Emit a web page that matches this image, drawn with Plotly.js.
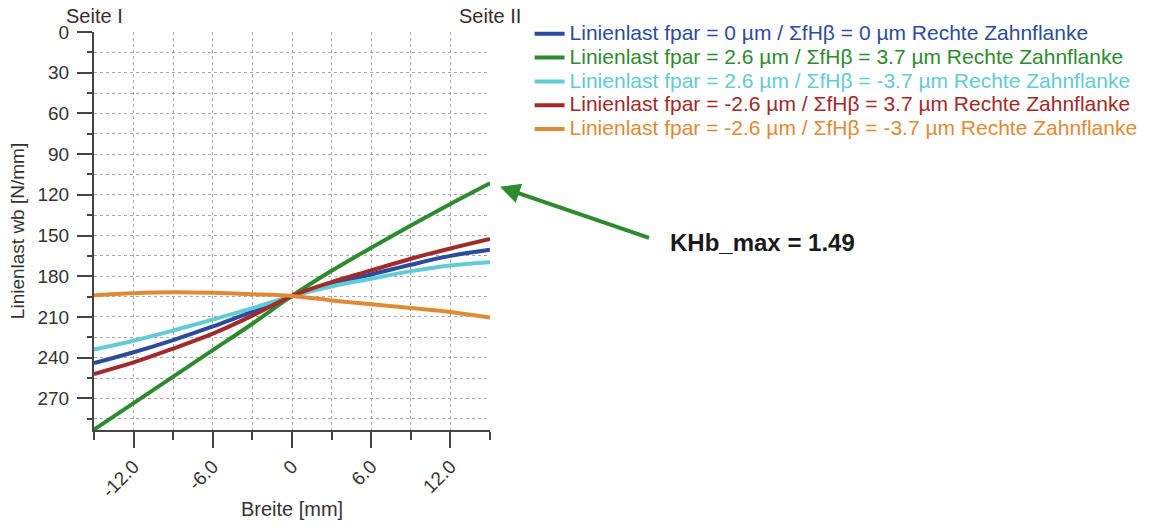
<!DOCTYPE html>
<html>
<head>
<meta charset="utf-8">
<script src="https://cdn.plot.ly/plotly-3.0.1.min.js"></script>
<style>html,body{margin:0;padding:0;background:#fff}#chart{width:1165px;height:528px}</style>
</head>
<body>
<div id="chart"></div>
<script>
// Breite [mm]
const breite = [-15, -12, -9, -6, -3, 0, 3, 6, 9, 12, 15];
// Linienlast wb [N/mm] per series
const lastBlau   = [244, 236, 227, 217, 206, 194.5, 186, 178.7, 171.5, 165, 160.5];
const lastGruen  = [293, 273.5, 254, 234.5, 215, 194.5, 176, 159, 142.6, 126.7, 111.5];
const lastCyan   = [234, 227.5, 220, 212, 203.5, 194.5, 187.5, 181.8, 176.2, 172, 169.6];
const lastRot    = [252, 243.5, 233.3, 222.3, 209, 194.5, 184.3, 175.7, 167.1, 159.5, 152.5];
const lastOrange = [194, 192.5, 191.8, 192.2, 193.2, 194.5, 197.8, 200.7, 203.4, 206.4, 210.5];

const seriesNames = [
  'Linienlast fpar = 0 µm / ΣfHβ = 0 µm Rechte Zahnflanke',
  'Linienlast fpar = 2.6 µm / ΣfHβ = 3.7 µm Rechte Zahnflanke',
  'Linienlast fpar = 2.6 µm / ΣfHβ = -3.7 µm Rechte Zahnflanke',
  'Linienlast fpar = -2.6 µm / ΣfHβ = 3.7 µm Rechte Zahnflanke',
  'Linienlast fpar = -2.6 µm / ΣfHβ = -3.7 µm Rechte Zahnflanke'
];
const seriesValues = [lastBlau, lastGruen, lastCyan, lastRot, lastOrange];
const colors = ['#2b4c9e', '#2e8a2e', '#62cbd4', '#a3292a', '#e08a35'];

const xTickVals = [-12, -6, 0, 6, 12];
const xTickText = ['-12.0', '-6.0', '0', '6.0', '12.0'];
const kLabel = 'KHb_max = 1.49';

const FONT = 'Liberation Sans, Arial, sans-serif';
const AX = '#444';

const traces = seriesValues.map((vals, i) => ({
  type: 'scatter', mode: 'lines',
  x: breite, y: vals,
  name: '<span style="font-size:21px;color:' + colors[i] + '">' + seriesNames[i] + '</span>',
  line: {color: colors[i], width: 4, shape: 'spline', smoothing: 1},
  hoverinfo: 'x+y'
}));

const layout = {
  width: 1165, height: 528,
  margin: {l: 94, r: 675, t: 32, b: 98, pad: 0},
  paper_bgcolor: '#ffffff', plot_bgcolor: '#ffffff',
  font: {family: FONT, color: '#333'},
  showlegend: true,
  legend: {
    x: 1.1, y: 1.038, xanchor: 'left', yanchor: 'top',
    font: {size: 16, family: FONT},
    bgcolor: 'rgba(0,0,0,0)', borderwidth: 0,
    itemwidth: 30, tracegroupgap: 0
  },
  xaxis: {
    range: [-15, 15], autorange: false,
    tickmode: 'array', tickvals: xTickVals, ticktext: xTickText,
    tickangle: -45,
    ticks: 'outside', ticklen: 16, tickwidth: 2, tickcolor: AX,
    showline: true, linecolor: AX, linewidth: 2,
    showgrid: true, gridcolor: '#a8a8a8', gridwidth: 1, griddash: 'dot',
    zeroline: false,
    minor: {dtick: 3, tick0: 0, ticks: 'outside', ticklen: 8, tickwidth: 2, tickcolor: AX,
            showgrid: true, gridcolor: '#a8a8a8', gridwidth: 1, griddash: 'dot'},
    tickfont: {size: 19, color: '#333'},
    title: {text: 'Breite [mm]', font: {size: 20, color: '#333'}, standoff: 2}
  },
  yaxis: {
    range: [293.3, 0], autorange: false,
    tickmode: 'linear', tick0: 0, dtick: 30,
    ticks: 'outside', ticklen: 15, tickwidth: 2, tickcolor: AX,
    showline: true, linecolor: AX, linewidth: 2,
    showgrid: true, gridcolor: '#a8a8a8', gridwidth: 1, griddash: 'dot',
    zeroline: false,
    minor: {dtick: 15, tick0: 0, ticks: 'outside', ticklen: 5, tickwidth: 2, tickcolor: AX,
            showgrid: true, gridcolor: '#a8a8a8', gridwidth: 1, griddash: 'dot'},
    tickfont: {size: 19, color: '#333'},
    ticklabelstandoff: 4,
    title: {text: 'Linienlast wb [N/mm]', font: {size: 19, color: '#333'}, standoff: 8}
  },
  annotations: [
    {xref: 'x', yref: 'paper', x: -15, y: 1, yanchor: 'bottom', xanchor: 'center',
     text: 'Seite I', showarrow: false, font: {size: 20, color: '#3a2d28', family: FONT}, yshift: 3},
    {xref: 'x', yref: 'paper', x: 15, y: 1, yanchor: 'bottom', xanchor: 'center',
     text: 'Seite II', showarrow: false, font: {size: 20, color: '#3a2d28', family: FONT}, yshift: 3},
    {xref: 'paper', yref: 'paper', x: 1.0253, y: 0.611, text: ' ', showarrow: true,
     ax: 152, ay: 52, arrowhead: 2, arrowsize: 1, arrowwidth: 4, arrowcolor: '#2e8a2e', standoff: 0},
    {xref: 'paper', yref: 'paper', x: 1.4495, y: 0.47, xanchor: 'left', yanchor: 'middle',
     text: '<b>' + kLabel + '</b>', showarrow: false, font: {size: 24, color: '#1a1a1a', family: FONT}}
  ]
};

Plotly.newPlot('chart', traces, layout, {displayModeBar: false, staticPlot: true});
</script>
</body>
</html>
